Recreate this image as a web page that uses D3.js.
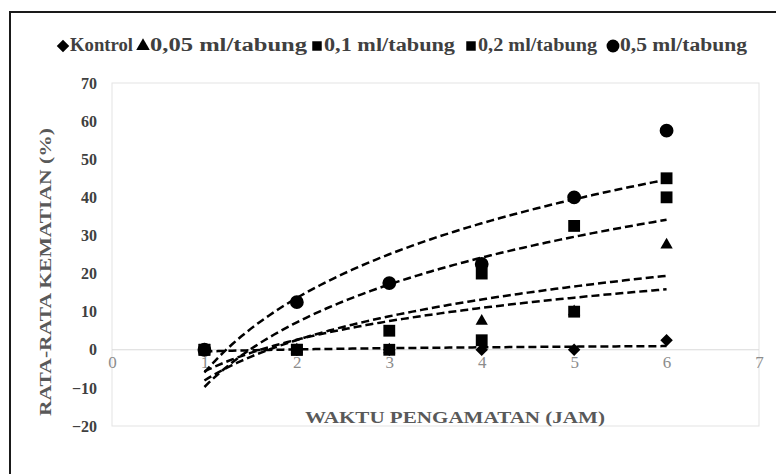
<!DOCTYPE html>
<html><head><meta charset="utf-8">
<script src="https://cdn.jsdelivr.net/npm/d3@7"></script>
<style>body{margin:0;background:#fff}svg{display:block}</style>
</head><body>
<svg id="c" width="776" height="474"></svg>
<script>
const hours = [1, 2, 3, 4, 5, 6];
const kontrol = [0, 0, 0, 0, 0, 2.5];
const dose005 = [0, 0, 0, 7.5, 10, 27.5];
const dose01 = [0, 0, 0, 2.5, 10, 40];
const dose02 = [0, 0, 5, 20, 32.5, 45];
const dose05 = [0, 12.5, 17.5, 22.5, 40, 57.5];
const seriesNames = ["Kontrol", "0,05 ml/tabung", "0,1 ml/tabung", "0,2 ml/tabung", "0,5 ml/tabung"];
const xTickValues = [0, 1, 2, 3, 4, 5, 6, 7];
const yTickValues = [-20, -10, 0, 10, 20, 30, 40, 50, 60, 70];
const xTitle = "WAKTU PENGAMATAN (JAM)";
const yTitle = "RATA-RATA KEMATIAN (%)";

const series = [
  {name: seriesNames[0], values: kontrol, sym: d3.symbolDiamond2, size: 100},
  {name: seriesNames[1], values: dose005, sym: d3.symbolTriangle, size: 66},
  {name: seriesNames[2], values: dose01, sym: d3.symbolSquare, size: 140},
  {name: seriesNames[3], values: dose02, sym: d3.symbolSquare, size: 140},
  {name: seriesNames[4], values: dose05, sym: d3.symbolCircle, size: 150}
];

const svg = d3.select("#c");
const font = "'Liberation Serif','Times New Roman',serif";
const x = d3.scaleLinear().domain([0, 7]).range([112, 759]);
const y = d3.scaleLinear().domain([-20, 70]).range([426, 83]);

// outer frame
svg.append("rect").attr("x", 10).attr("y", 12).attr("width", 800).attr("height", 520)
  .attr("fill", "#fff").attr("stroke", "#1a1a1a").attr("stroke-width", 2);

// plot area border
svg.append("rect").attr("x", x(0)).attr("y", y(70)).attr("width", x(7) - x(0)).attr("height", y(-20) - y(70))
  .attr("fill", "none").attr("stroke", "#e3e3e3").attr("stroke-width", 1);

// zero axis line
svg.append("line").attr("x1", x(0)).attr("x2", x(7)).attr("y1", y(0)).attr("y2", y(0))
  .attr("stroke", "#d9d9d9").attr("stroke-width", 1);

// y tick labels
const yAxis = d3.axisLeft(y).tickValues(yTickValues).tickSize(0).tickPadding(0).tickFormat(d3.format("d"));
const gy = svg.append("g").attr("transform", `translate(97,0)`).call(yAxis);
gy.select(".domain").remove();
gy.selectAll("text").attr("font-family", font).attr("font-size", 16).attr("font-weight", "bold").attr("fill", "#404040");

// x tick labels
const xAxis = d3.axisBottom(x).tickValues(xTickValues).tickSize(0).tickPadding(0).tickFormat(d3.format("d"));
const gx = svg.append("g").attr("transform", `translate(0,${y(0) + 18})`).call(xAxis);
gx.select(".domain").remove();
gx.selectAll("text").attr("font-family", font).attr("font-size", 17).attr("fill", "#8c8c8c").attr("dy", "0");

// titles
svg.append("text").attr("x", 455).attr("y", 423).attr("text-anchor", "middle")
  .attr("font-family", font).attr("font-size", 17).attr("font-weight", "bold").attr("fill", "#595959")
  .attr("textLength", 300).attr("lengthAdjust", "spacingAndGlyphs").text(xTitle);
svg.append("text").attr("transform", "translate(51,272) rotate(-90)").attr("text-anchor", "middle")
  .attr("font-family", font).attr("font-size", 17).attr("font-weight", "bold").attr("fill", "#595959")
  .attr("textLength", 288).attr("lengthAdjust", "spacingAndGlyphs").text(yTitle);

// logarithmic trendlines (least squares on ln x)
function logFit(xs, ys) {
  const l = xs.map(Math.log);
  const ml = d3.mean(l), my = d3.mean(ys);
  let sxy = 0, sxx = 0;
  l.forEach((v, i) => { sxy += (v - ml) * (ys[i] - my); sxx += (v - ml) * (v - ml); });
  const a = sxy / sxx, b = my - a * ml;
  return t => a * Math.log(t) + b;
}
const samples = d3.range(0, 101).map(i => hours[0] + (hours[hours.length - 1] - hours[0]) * i / 100);
const line = d3.line().x(d => x(d[0])).y(d => y(d[1]));
series.forEach(s => {
  const f = logFit(hours, s.values);
  svg.append("path").attr("d", line(samples.map(t => [t, f(t)])))
    .attr("fill", "none").attr("stroke", "#000").attr("stroke-width", 2.5).attr("stroke-dasharray", "8,4");
});

// markers
series.forEach(s => {
  svg.append("g").selectAll("path").data(s.values).join("path")
    .attr("transform", (d, i) => `translate(${x(hours[i])},${y(d)})`)
    .attr("d", d3.symbol().type(s.sym).size(s.size)).attr("fill", "#000");
});

// legend
const legendTextSpans = [[70, 133], [150, 307], [324, 455], [478, 597], [620, 747]];
const legendSymSizes = [100, 80, 90, 90, 130];
const lg = svg.append("g");
series.forEach((s, i) => {
  const [t0, t1] = legendTextSpans[i];
  lg.append("path").attr("transform", `translate(${t0 - 7},46)`)
    .attr("d", d3.symbol().type(s.sym).size(legendSymSizes[i])).attr("fill", "#000");
  lg.append("text").attr("x", t0).attr("y", 51)
    .attr("font-family", font).attr("font-size", 18).attr("font-weight", "bold").attr("fill", "#404040")
    .attr("textLength", t1 - t0).attr("lengthAdjust", "spacingAndGlyphs").text(s.name);
});
</script>
</body></html>
